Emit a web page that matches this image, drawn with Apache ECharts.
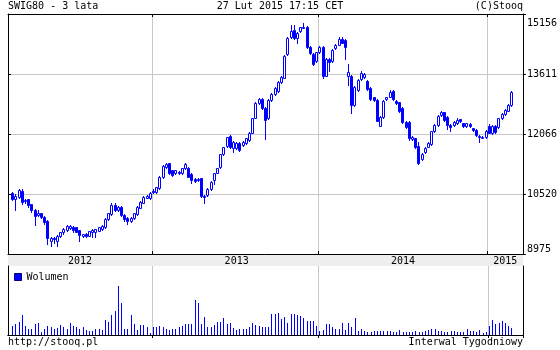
<!DOCTYPE html>
<html>
<head>
<meta charset="utf-8">
<script src="https://cdn.jsdelivr.net/npm/echarts@6/dist/echarts.min.js"></script>
<style>
html,body{margin:0;padding:0;background:#fff;}
#c{width:560px;height:350px;}
</style>
</head>
<body>
<div id="c"></div>
<script>
// ---- data (weekly SWIG80) ----
var startDate = '2012-02-24';      // first category (empty week)
var weekCount = 161;               // categories on the time axis
var firstDataIdx = 1;              // first week with a candle

var opens = [10550,10400,10450,10600,10330,10380,10250,10120,9990,10020,
9930,9830,9320,9380,9320,9440,9540,9600,9640,9680,
9660,9590,9440,9500,9440,9530,9530,9580,9620,9660,
9880,10000,10230,10110,10180,9990,9900,9830,9900,10000,
10170,10300,10430,10420,10600,10560,10670,10960,11210,11310,
11130,11050,11080,11060,11180,11200,11030,10900,10880,10920,
10470,10490,10640,10880,11070,11210,11540,11760,12010,11700,
11700,11830,11780,11830,11910,12100,12490,12870,12960,12730,
12480,12940,13100,13170,13400,13520,14120,14560,14740,14540,
14710,14810,14830,14300,14130,13950,14170,14300,13570,13990,
13950,14280,14370,14510,14480,13570,13570,12800,13190,13480,
13540,13440,13250,13010,12940,12280,12500,12960,13030,13180,
12910,12880,12730,12380,12380,11930,11950,11760,11410,11590,
11740,11810,12130,12300,12560,12620,12510,12310,12300,12340,
12440,12340,12260,12330,12210,12180,12020,11980,11980,12270,
12090,12270,12250,12470,12580,12670,12810];

var closes = [10400,10480,10620,10320,10370,10240,10110,9950,10040,9930,
9790,9380,9380,9350,9440,9530,9630,9700,9700,9590,
9550,9460,9480,9440,9560,9600,9610,9660,9700,9880,
10020,10240,10110,10180,9980,9870,9820,9910,10020,10190,
10320,10450,10470,10540,10560,10690,10960,11240,11280,11050,
11010,11130,11060,11180,11290,10970,10880,10860,10900,10470,
10450,10650,10830,11050,11180,11540,11720,11980,11720,11870,
11830,11660,11860,11950,12100,12470,12870,12960,12730,12430,
12940,13100,13250,13400,13530,14080,14550,14730,14540,14660,
14810,14830,14300,14140,13870,14170,14300,13570,13990,13920,
14230,14370,14510,14420,14300,13650,12800,13270,13460,13630,
13610,13220,12970,12940,12410,12510,12910,13010,13140,12970,
12860,12650,12380,12250,11950,11990,11740,11310,11550,11710,
11830,12130,12310,12530,12620,12430,12300,12240,12380,12420,
12390,12260,12340,12260,12170,12040,11980,12000,12150,12100,
12270,12110,12470,12580,12680,12810,13150];

var lows = [10370,10110,10430,10250,10300,10180,10050,9720,9960,9900,
9750,9240,9190,9250,9170,9420,9490,9580,9620,9540,
9530,9320,9420,9420,9430,9400,9400,9560,9600,9650,
9860,9990,10090,10080,9960,9820,9760,9810,9880,9990,
10150,10280,10410,10400,10540,10540,10650,10940,11190,11030,
10990,11030,11040,11040,11160,10950,10800,10820,10860,10440,
10290,10470,10620,10780,11050,11190,11520,11740,11700,11600,
11680,11640,11760,11810,11890,12080,12470,12850,12710,11930,
12460,12920,13080,13150,13380,13500,14100,14540,14520,14400,
14690,14790,14280,14120,13850,13930,14150,13500,13550,13700,
13930,14260,14350,14400,14000,13320,12600,12780,13170,13460,
13520,13200,12950,12920,12390,12260,12480,12940,13010,12950,
12840,12630,12360,12230,11900,11910,11700,11290,11390,11570,
11720,11790,12110,12280,12540,12410,12200,12150,12280,12320,
12370,12240,12240,12240,12150,12020,11870,11960,11960,12080,
12070,12090,12230,12450,12560,12650,12790];

var highs = [10580,10510,10660,10640,10400,10400,10270,10140,10110,10040,
9950,9840,9420,9400,9460,9550,9650,9720,9720,9700,
9670,9600,9500,9520,9570,9620,9630,9680,9720,9890,
10040,10280,10280,10200,10200,10010,9920,9930,10040,10210,
10340,10470,10490,10560,10640,10710,10980,11260,11320,11330,
11150,11150,11100,11200,11320,11220,11050,10920,10920,10940,
10490,10670,10850,11070,11200,11560,11740,12000,12030,11890,
11850,11850,11880,11970,12120,12490,12890,13000,12980,12750,
12960,13120,13270,13420,13550,14100,14570,14870,14880,14680,
14830,14920,14850,14320,14150,14190,14320,14320,14010,14010,
14250,14390,14570,14570,14500,13870,13590,13290,13480,13690,
13630,13460,13270,13030,12960,12530,12930,13030,13200,13200,
12930,12900,12750,12400,12400,12010,11970,11870,11570,11730,
11850,12150,12330,12550,12650,12640,12530,12330,12400,12480,
12460,12360,12360,12350,12230,12200,12040,12020,12170,12330,
12290,12290,12490,12600,12700,12830,13170];

var volumes = [9,11,13,20,9,6,6,11,12,3,
6,9,8,6,7,10,8,6,12,9,
8,6,8,5,4,4,6,6,5,15,
13,20,24,49,32,6,6,20,11,5,
10,10,8,2,8,8,9,8,6,5,
6,6,8,9,11,11,11,35,32,11,
18,8,8,10,13,13,17,11,12,7,
5,6,6,6,8,12,10,9,8,8,
8,21,21,22,16,18,12,21,21,20,
19,17,14,14,14,9,4,5,11,11,
8,6,6,12,5,12,8,17,4,6,
4,3,3,4,4,4,4,4,4,3,
3,5,3,3,3,3,4,3,3,4,
5,6,6,4,4,3,3,4,4,3,
3,3,6,4,4,3,5,2,3,9,
15,11,12,14,12,9,7];

var priceMin = 8975, priceMax = 15156;
var priceTickLabels = ['8975','10520','12066','13611','15156'];
var volumeMax = 69;
var yearStarts = [45, 97, 150];
var yearLabels = ['2012', '2013', '2014', '2015'];
var yearLabelIdx = [22, 71, 123, 155];

// ---- build ----
var weeks = [];
(function(){
  var d = new Date(startDate + 'T00:00:00Z');
  for (var k = 0; k < weekCount; k++) {
    var t = new Date(d.getTime() + k * 7 * 86400000);
    weeks.push(t.toISOString().slice(0, 10));
  }
})();
var candleData = [];
var volData = [];
for (var k = 0; k < weeks.length; k++) {
  var j = k - firstDataIdx;
  if (j >= 0 && j < closes.length) {
    candleData.push([k, opens[j], closes[j], lows[j], highs[j]]);
    volData.push([k, volumes[j]]);
  }
}
function isYearStart(i){ return yearStarts.indexOf(i) >= 0; }

var FONT = 'DejaVu Sans Mono';
var GRID_C = '#c8c8c8';
var BLUE = '#0000ff';
var BLACK = '#000000';
var txt = {fontFamily: FONT, fontSize: 10, fontWeight: 'normal', color: BLACK};

function renderCandle(params, api) {
  var idx = api.value(0);
  var o = api.value(1), c = api.value(2), l = api.value(3), h = api.value(4);
  var po = api.coord([idx, o]), pc = api.coord([idx, c]);
  var pl = api.coord([idx, l]), ph = api.coord([idx, h]);
  var cx = Math.floor(po[0]);
  var up = c >= o;
  var yTop = Math.round(Math.min(po[1], pc[1]));
  var yBot = Math.round(Math.max(po[1], pc[1]));
  if (yBot - yTop < 1) yBot = yTop + 1;
  var yH = Math.round(ph[1]), yL = Math.round(pl[1]);
  return {
    type: 'group',
    children: [
      {type: 'line', shape: {x1: cx + 0.5, y1: yH, x2: cx + 0.5, y2: yL + 1},
       style: {stroke: BLUE, lineWidth: 1}},
      {type: 'rect', shape: {x: cx - 0.5, y: yTop + 0.5, width: 2, height: yBot - yTop},
       style: {fill: up ? '#ffffff' : BLUE, stroke: BLUE, lineWidth: 1}}
    ]
  };
}
function renderVolume(params, api) {
  var idx = api.value(0);
  var p0 = api.coord([idx, 0]), p1 = api.coord([idx, api.value(1)]);
  var x = Math.floor(p0[0]) + 0.5;
  return {type: 'line', shape: {x1: x, y1: Math.round(p0[1]), x2: x, y2: Math.round(p1[1])},
          style: {stroke: BLUE, lineWidth: 1}};
}

var chart = echarts.init(document.getElementById('c'), null, {renderer: 'canvas'});
chart.setOption({
  animation: false,
  backgroundColor: '#ffffff',
  textStyle: {fontFamily: FONT},
  title: [
    {text: 'SWIG80 - 3 lata', left: 8, top: 1, padding: 0, textStyle: txt},
    {text: '27 Lut 2015 17:15 CET', left: 'center', top: 1, padding: 0, textStyle: txt},
    {text: '(C)Stooq', right: 37, top: 1, padding: 0, textStyle: txt},
    {text: 'http://stooq.pl', left: 8, top: 337, padding: 0, textStyle: txt},
    {text: 'Interwal Tygodniowy', right: 37, top: 337, padding: 0, textStyle: txt}
  ],
  legend: {
    data: [{name: 'Wolumen', itemStyle: {color: BLUE, borderColor: '#000080', borderWidth: 1}}],
    left: 14, top: 272, padding: 0,
    itemWidth: 7, itemHeight: 7, icon: 'rect',
    textStyle: txt, selectedMode: false
  },
  grid: [
    {left: 8, right: 37, top: 14, height: 240, containLabel: false},
    {left: 8, right: 37, top: 254, height: 12, show: true, backgroundColor: '#eeeeee', borderWidth: 0},
    {left: 8, right: 37, top: 266, height: 69}
  ],
  xAxis: [
    { type: 'category', gridIndex: 0, data: weeks, boundaryGap: true, position: 'bottom',
      axisLine: {show: true, lineStyle: {color: BLACK, width: 1}},
      axisTick: {show: true, inside: true, length: 3, interval: isYearStart, lineStyle: {color: BLACK}},
      axisLabel: {show: true, margin: 2, fontFamily: FONT, fontSize: 10, color: BLACK,
        interval: function(i){ return yearLabelIdx.indexOf(i) >= 0; },
        formatter: function(v, i){ var p = yearLabelIdx.indexOf(i); return p >= 0 ? yearLabels[p] : ''; }},
      splitLine: {show: true, interval: isYearStart, lineStyle: {color: GRID_C, width: 1}}
    },
    { type: 'category', gridIndex: 0, data: weeks, boundaryGap: true, position: 'top',
      axisLine: {show: true, lineStyle: {color: BLACK}},
      axisTick: {show: true, inside: true, length: 3, interval: isYearStart, lineStyle: {color: BLACK}},
      axisLabel: {show: false}, splitLine: {show: false}
    },
    { type: 'category', gridIndex: 1, data: weeks, show: false },
    { type: 'category', gridIndex: 2, data: weeks, boundaryGap: true, position: 'bottom',
      axisLine: {show: true, lineStyle: {color: BLACK}},
      axisTick: {show: false}, axisLabel: {show: false},
      splitLine: {show: true, interval: isYearStart, lineStyle: {color: GRID_C, width: 1}}
    },
    { type: 'category', gridIndex: 2, data: weeks, boundaryGap: true, position: 'top',
      axisLine: {show: true, lineStyle: {color: BLACK}},
      axisTick: {show: true, inside: true, length: 3, interval: isYearStart, lineStyle: {color: BLACK}},
      axisLabel: {show: false}, splitLine: {show: false}
    }
  ],
  yAxis: [
    { type: 'value', gridIndex: 0, position: 'right', min: priceMin, max: priceMax,
      interval: (priceMax - priceMin) / 4, scale: true,
      axisLine: {show: true, lineStyle: {color: BLACK}},
      axisTick: {show: true, inside: false, length: 3, lineStyle: {color: BLACK}},
      axisLabel: {show: true, margin: 4, fontFamily: FONT, fontSize: 10, color: BLACK,
        verticalAlignMinLabel: 'bottom', verticalAlignMaxLabel: 'top',
        formatter: function(v){
          var idx = Math.round((v - priceMin) / ((priceMax - priceMin) / 4));
          var s = priceTickLabels[idx] !== undefined ? priceTickLabels[idx] : String(Math.round(v));
          return idx === 4 ? '{t|' + s + '}' : s;
        },
        rich: {t: {fontFamily: FONT, fontSize: 10, color: BLACK, padding: [4, 0, 0, 0]}}},
      splitLine: {show: true, lineStyle: {color: GRID_C, width: 1}}
    },
    { type: 'value', gridIndex: 0, position: 'left', min: priceMin, max: priceMax,
      interval: (priceMax - priceMin) / 4, scale: true,
      axisLine: {show: true, lineStyle: {color: BLACK}},
      axisTick: {show: true, inside: true, length: 3, lineStyle: {color: BLACK}},
      axisLabel: {show: false}, splitLine: {show: false}
    },
    { type: 'value', gridIndex: 1, show: false },
    { type: 'value', gridIndex: 2, position: 'left', min: 0, max: volumeMax,
      axisLine: {show: true, lineStyle: {color: BLACK}},
      axisTick: {show: false}, axisLabel: {show: false}, splitLine: {show: false}
    },
    { type: 'value', gridIndex: 2, position: 'right', min: 0, max: volumeMax,
      axisLine: {show: true, lineStyle: {color: BLACK}},
      axisTick: {show: false}, axisLabel: {show: false}, splitLine: {show: false}
    }
  ],
  series: [
    { name: 'SWIG80', type: 'custom', xAxisIndex: 0, yAxisIndex: 0,
      data: candleData, encode: {x: 0, y: [1, 2, 3, 4]},
      renderItem: renderCandle, itemStyle: {color: BLUE}, z: 3
    },
    { name: 'Wolumen', type: 'custom', xAxisIndex: 3, yAxisIndex: 3,
      data: volData, encode: {x: 0, y: 1},
      renderItem: renderVolume, itemStyle: {color: BLUE}, z: 3
    }
  ]
});
</script>
</body>
</html>
